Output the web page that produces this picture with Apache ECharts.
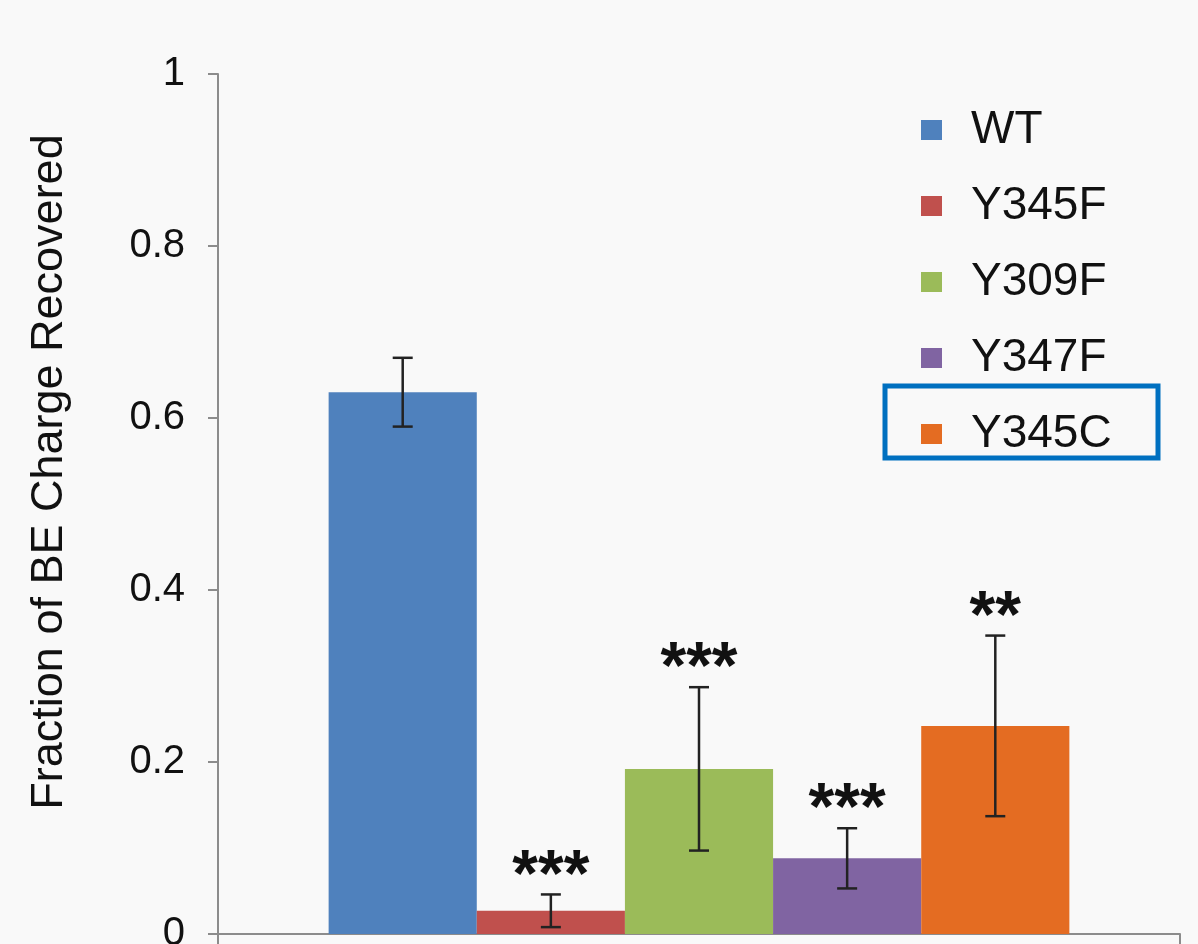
<!DOCTYPE html>
<html>
<head>
<meta charset="utf-8">
<script src="https://cdn.jsdelivr.net/npm/echarts@6/dist/echarts.min.js"></script>
<style>
  html, body { margin: 0; padding: 0; background: #f9f9f9; }
  #chart { width: 1198px; height: 944px; }
</style>
</head>
<body>
<div id="chart"></div>
<script>
const mutants = ["WT", "Y345F", "Y309F", "Y347F", "Y345C"]
const means = [0.63, 0.027, 0.192, 0.088, 0.242]
const errors = [0.04, 0.019, 0.095, 0.035, 0.105]
const stars = ["", "***", "***", "***", "**"]
const colors = ["#4f81bd", "#c0504d", "#9bbb59", "#8064a2", "#e46c22"]
const yTicks = [0, 0.2, 0.4, 0.6, 0.8, 1]

const catGap = 0.23
const font = "Liberation Sans, Arial, sans-serif"

const barSeries = mutants.map((name, i) => ({
  name: name,
  type: "bar",
  data: [means[i]],
  barGap: "0%",
  barCategoryGap: catGap * 100 + "%",
  itemStyle: {color: colors[i]}
}))

// error bars + significance stars, placed over each bar of the group
const errSeries = {
  type: "custom",
  data: mutants.map((m, i) => [0, means[i], errors[i], i]),
  encode: {x: 0, y: 1},
  z: 10,
  renderItem(params, api) {
    const mean = api.value(1)
    const err = api.value(2)
    const idx = api.value(3)
    const center = api.coord([0, 0])[0]
    const groupW = api.size([1, 0])[0] * (1 - catGap)
    const barW = groupW / mutants.length
    const x = center - groupW / 2 + barW * (idx + 0.5)
    const yHi = api.coord([0, mean + err])[1]
    const yLo = api.coord([0, mean - err])[1]
    const style = {stroke: "#222", lineWidth: 2.5}
    const cap = 10
    return {
      type: "group",
      children: [
        {type: "line", shape: {x1: x, y1: yHi, x2: x, y2: yLo}, style},
        {type: "line", shape: {x1: x - cap, y1: yHi, x2: x + cap, y2: yHi}, style},
        {type: "line", shape: {x1: x - cap, y1: yLo, x2: x + cap, y2: yLo}, style},
        {
          type: "text",
          x: x,
          y: yHi - 17,
          style: {
            text: stars[idx],
            fontSize: 66,
            fontWeight: "bold",
            fontFamily: font,
            fill: "#111",
            align: "center",
            verticalAlign: "middle"
          }
        }
      ]
    }
  }
}

const chart = echarts.init(document.getElementById("chart"))
chart.setOption({
  backgroundColor: "#f9f9f9",
  animation: false,
  grid: {left: 218, right: 18, top: 74, bottom: 10, outerBoundsMode: "none", containLabel: false},
  legend: {
    data: mutants,
    orient: "vertical",
    left: 916,
    top: 100,
    itemWidth: 21,
    itemHeight: 20,
    itemGap: 26,
    icon: "rect",
    textStyle: {
      fontSize: 46,
      fontFamily: font,
      color: "#111",
      lineHeight: 50,
      padding: [0, 0, 0, 24]
    }
  },
  xAxis: {
    type: "category",
    data: [""],
    axisLine: {lineStyle: {color: "#8c8c8c", width: 2}},
    axisTick: {show: true, length: 14, lineStyle: {color: "#8c8c8c", width: 2}},
    axisLabel: {show: false}
  },
  yAxis: {
    type: "value",
    min: yTicks[0],
    max: yTicks[yTicks.length - 1],
    interval: 0.2,
    name: "Fraction of BE Charge Recovered",
    nameLocation: "middle",
    nameRotate: 90,
    nameGap: 146,
    nameTextStyle: {fontSize: 45, fontFamily: font, color: "#111", padding: [0, 0, 0, 64]},
    splitLine: {show: false},
    axisLine: {show: true, lineStyle: {color: "#8c8c8c", width: 2}},
    axisTick: {show: true, length: 10, lineStyle: {color: "#8c8c8c", width: 2}},
    axisLabel: {
      fontSize: 40,
      fontFamily: font,
      color: "#111",
      margin: 33,
      formatter(val) { return String(Math.round(val * 10) / 10) }
    }
  },
  graphic: [
    {
      // highlight box around the Y345C legend entry
      type: "rect",
      shape: {x: 885, y: 386, width: 273, height: 72},
      style: {fill: "none", stroke: "#0070c0", lineWidth: 5},
      z: 100
    }
  ],
  series: [...barSeries, errSeries]
})
</script>
</body>
</html>
